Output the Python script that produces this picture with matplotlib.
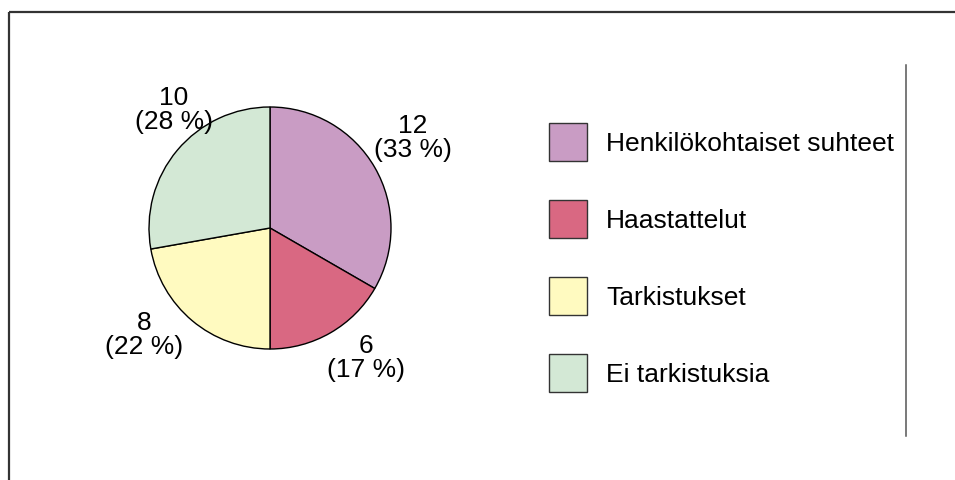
import matplotlib
matplotlib.use("Agg")
import matplotlib.pyplot as plt
from matplotlib.lines import Line2D

categories = ["Henkilökohtaiset suhteet", "Haastattelut", "Tarkistukset", "Ei tarkistuksia"]
counts = [12, 6, 8, 10]
colors = ["#C99CC4", "#D96882", "#FFFAC0", "#D3E8D5"]

# label positions (pixels, relative to pie centre)
label_offsets = [(143, 91), (96, -129), (-126, -106), (-96, 119)]

plt.rcParams["font.family"] = ["Liberation Sans", "DejaVu Sans"]
FS = 19

W, H = 955, 481
fig = plt.figure(figsize=(W / 100, H / 100), dpi=100)
ax = fig.add_axes([0, 0, 1, 1])

cx, cy, r = 270, H - 229, 121
total = sum(counts)
wedges, _ = ax.pie(counts, colors=colors, startangle=90, counterclock=False,
                   center=(cx, cy), radius=r,
                   wedgeprops=dict(edgecolor="black", linewidth=1.0))

for v, (dx, dy) in zip(counts, label_offsets):
    pct = round(100 * v / total)
    ax.text(cx + dx, cy + dy, "%d\n(%d %%)" % (v, pct), ha="center", va="center",
            fontsize=FS, linespacing=1.0)

ax.set_xlim(0, W)
ax.set_ylim(0, H)
ax.set_aspect("auto")
ax.axis("off")

# frame lines
ax.add_line(Line2D([9, W], [H - 13, H - 13], color="#333333", lw=1.6, solid_capstyle="butt"))
ax.add_line(Line2D([9, 9], [H - 13, 0], color="#333333", lw=1.6, solid_capstyle="butt"))
ax.add_line(Line2D([906, 906], [H - 66, H - 437], color="#555555", lw=1.1))

# legend sizes are in points; box 38 px square, rows 77 px apart
box_pt = 38 * 0.72
hh = (box_pt - 0.245 * FS) / (0.65 * FS)
leg = ax.legend(wedges, categories, loc="upper left",
                bbox_to_anchor=(549 / W, 1 - 124 / H), bbox_transform=fig.transFigure,
                frameon=False, fontsize=FS, borderpad=0, borderaxespad=0,
                handlelength=box_pt / FS, handleheight=hh,
                handletextpad=13.7 / FS, labelspacing=39 * 0.72 / FS)
for h in leg.legend_handles:
    h.set_edgecolor("#333333")
    h.set_linewidth(1.0)

fig.savefig("out.png", dpi=100)
